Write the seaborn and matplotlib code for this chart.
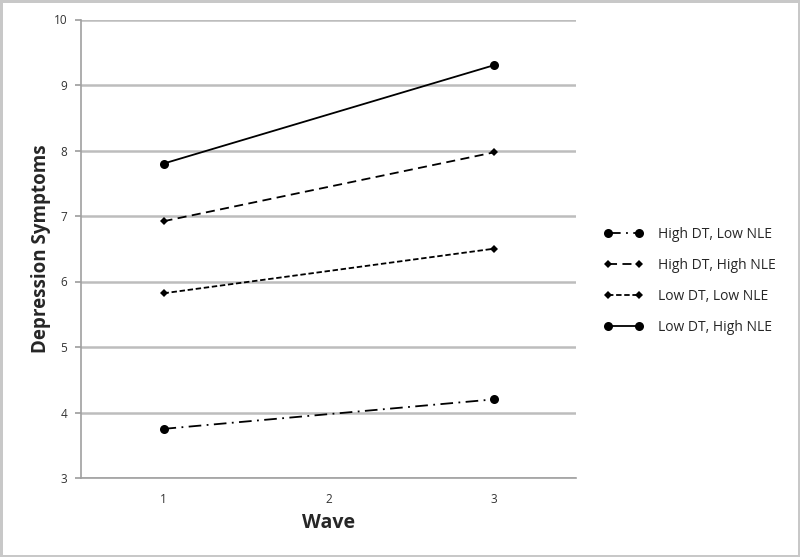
import matplotlib
matplotlib.use("Agg")
import matplotlib.pyplot as plt
import seaborn as sns
import pandas as pd

wave_labels = ["1", "2", "3"]
waves = ["1", "3"]
series = ["High DT, Low NLE", "High DT, High NLE", "Low DT, Low NLE", "Low DT, High NLE"]
high_dt_low_nle = [3.75, 4.20]
high_dt_high_nle = [6.92, 7.97]
low_dt_low_nle = [5.82, 6.50]
low_dt_high_nle = [7.80, 9.30]

values = [high_dt_low_nle, high_dt_high_nle, low_dt_low_nle, low_dt_high_nle]
rows = []
for name, vals in zip(series, values):
    for w, v in zip(waves, vals):
        rows.append({"series": name, "pos": wave_labels.index(w), "value": v})
df = pd.DataFrame(rows)

sns.set_theme(style="white")
plt.rcParams["font.family"] = ["Open Sans", "DejaVu Sans"]

fig = plt.figure(figsize=(8.0, 5.57), dpi=100)
fig.patch.set_edgecolor("#c8c8c8")
fig.patch.set_linewidth(2.5)
ax = fig.add_axes([81/800, 1-478/557, (576-81)/800, (478-19.5)/557])

dashes = {
    series[0]: (7, 3, 1, 3),
    series[1]: (5, 3),
    series[2]: (3, 1.5),
    series[3]: "",
}
markers = {series[0]: "o", series[1]: "D", series[2]: "D", series[3]: "o"}
msize = [6.5, 4.2, 4.2, 6.5]

sns.lineplot(data=df, x="pos", y="value", hue="series", style="series",
             hue_order=series, style_order=series,
             palette=["black"] * 4, dashes=dashes, markers=markers,
             linewidth=1.3, markersize=6, markeredgewidth=0, ax=ax, legend="full")

for line, ms in zip(ax.get_lines()[:4], msize):
    line.set_markersize(ms)

ax.set_xlim(-0.5, 2.5)
ax.set_ylim(3, 10)
ax.set_xticks([0, 1, 2])
ax.set_xticklabels(wave_labels)
ax.set_yticks(range(3, 11))
ax.yaxis.grid(True, color="#bdbdbd", linewidth=1.8)
ax.xaxis.grid(False)
ax.set_axisbelow(True)
for s in ["top", "right"]:
    ax.spines[s].set_visible(False)
for s in ["left", "bottom"]:
    ax.spines[s].set_color("#a0a0a0")
    ax.spines[s].set_linewidth(1.2)
ax.tick_params(axis="both", length=4, color="#a0a0a0", labelsize=8.5, labelcolor="#333333",
               left=True, bottom=True, pad=6)
ax.set_xticks([-0.5, 0.5, 1.5, 2.5], minor=True)
ax.tick_params(axis="x", which="major", length=0, pad=11)
ax.tick_params(axis="x", which="minor", length=4, color="#a0a0a0")

ax.set_xlabel("Wave", fontsize=14, fontweight="bold", labelpad=5)
ax.set_ylabel("Depression Symptoms", fontsize=13.5, fontweight="bold", labelpad=2)

handles, labels = ax.get_legend_handles_labels()
for h, ms in zip(handles, msize):
    h.set_markersize(ms)
leg = ax.legend(handles, labels, loc="center left", bbox_to_anchor=(1.03, 0.43),
                frameon=False, fontsize=10, handlelength=2.9, labelspacing=1.15,
                handletextpad=1.0, numpoints=2)

fig.savefig("out.png", dpi=100)
